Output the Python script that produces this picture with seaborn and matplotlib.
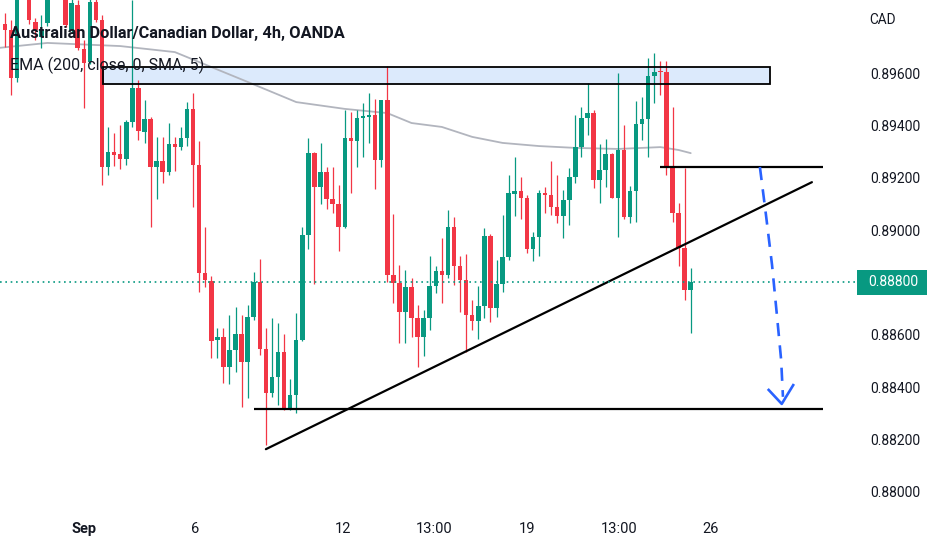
import numpy as np
import pandas as pd
import matplotlib
matplotlib.use("Agg")
import matplotlib.pyplot as plt
import matplotlib.transforms as mtransforms
from matplotlib.patches import Rectangle
import seaborn as sns

# ----------------------------------------------------
# data: AUD/CAD 4h candles
# ----------------------------------------------------
opens = [0.89787, 0.89764, 0.89581, 0.89910, 0.89925, 0.89795, 0.89738, 0.89791, 0.89902, 0.89925,
         0.89898, 0.89764, 0.89860, 0.89692, 0.89642, 0.89871, 0.89803, 0.89241, 0.89298, 0.89291,
         0.89272, 0.89413, 0.89543, 0.89375, 0.89424, 0.89241, 0.89264, 0.89222, 0.89329, 0.89317,
         0.89352, 0.89463, 0.89249, 0.88836, 0.88806, 0.88580, 0.88592, 0.88477, 0.88542, 0.88603,
         0.88496, 0.88668, 0.88802, 0.88546, 0.88378, 0.88439, 0.88534, 0.88317, 0.88370, 0.88580,
         0.88981, 0.89295, 0.89165, 0.89222, 0.89119, 0.89100, 0.89012, 0.89352, 0.89340, 0.89428,
         0.89432, 0.89440, 0.89268, 0.89497, 0.88829, 0.88798, 0.88687, 0.88783, 0.88664, 0.88592,
         0.88664, 0.88787, 0.88844, 0.88829, 0.89012, 0.88863, 0.88809, 0.88676, 0.88653, 0.88710,
         0.88978, 0.88702, 0.88794, 0.88897, 0.89138, 0.89149, 0.89123, 0.88928, 0.88974, 0.89142,
         0.89134, 0.89088, 0.89054, 0.89115, 0.89203, 0.89317, 0.89428, 0.89447, 0.89191, 0.89230,
         0.89291, 0.89123, 0.89306, 0.89050, 0.89149, 0.89405, 0.89424, 0.89589, 0.89608, 0.89604,
         0.89245, 0.89065, 0.88932, 0.88771]
highs = [0.89829, 0.89803, 0.89955, 0.89975, 0.89948, 0.89810, 0.89822, 0.89917, 0.89955, 0.89948,
         0.89917, 0.89887, 0.89879, 0.89726, 0.89898, 0.89891, 0.89822, 0.89394, 0.89371, 0.89401,
         0.89421, 0.89879, 0.89573, 0.89497, 0.89432, 0.89356, 0.89356, 0.89409, 0.89356, 0.89394,
         0.89489, 0.89524, 0.89340, 0.89012, 0.88825, 0.88626, 0.88626, 0.88676, 0.88706, 0.88676,
         0.88714, 0.88840, 0.88890, 0.88626, 0.88664, 0.88645, 0.88603, 0.88431, 0.88683, 0.89012,
         0.89352, 0.89298, 0.89333, 0.89241, 0.89241, 0.89172, 0.89459, 0.89451, 0.89459, 0.89486,
         0.89524, 0.89501, 0.89497, 0.89627, 0.89062, 0.88867, 0.88848, 0.88817, 0.88714, 0.88695,
         0.88901, 0.88863, 0.88970, 0.89077, 0.89050, 0.88901, 0.88909, 0.88733, 0.88787, 0.89008,
         0.88985, 0.88886, 0.89058, 0.89211, 0.89279, 0.89203, 0.89134, 0.88993, 0.89153, 0.89165,
         0.89264, 0.89211, 0.89153, 0.89237, 0.89440, 0.89470, 0.89562, 0.89459, 0.89329, 0.89348,
         0.89295, 0.89600, 0.89401, 0.89169, 0.89493, 0.89508, 0.89657, 0.89677, 0.89646, 0.89646,
         0.89470, 0.89104, 0.89237, 0.88855]
lows = [0.89700, 0.89516, 0.89566, 0.89891, 0.89787, 0.89726, 0.89696, 0.89780, 0.89887, 0.89887,
        0.89776, 0.89753, 0.89688, 0.89466, 0.89635, 0.89795, 0.89172, 0.89211, 0.89245, 0.89233,
        0.89249, 0.89394, 0.89344, 0.89333, 0.89012, 0.89119, 0.89180, 0.89211, 0.89226, 0.89306,
        0.89321, 0.89088, 0.88764, 0.88783, 0.88511, 0.88511, 0.88416, 0.88412, 0.88458, 0.88324,
        0.88359, 0.88657, 0.88523, 0.88179, 0.88363, 0.88332, 0.88313, 0.88313, 0.88301, 0.88576,
        0.88928, 0.88794, 0.89100, 0.89081, 0.89065, 0.88920, 0.89008, 0.89142, 0.89241, 0.89279,
        0.89333, 0.89157, 0.89241, 0.88802, 0.88722, 0.88569, 0.88569, 0.88592, 0.88477, 0.88519,
        0.88618, 0.88760, 0.88722, 0.88817, 0.88790, 0.88687, 0.88534, 0.88618, 0.88584, 0.88664,
        0.88649, 0.88668, 0.88764, 0.88886, 0.89054, 0.89042, 0.88913, 0.88882, 0.88901, 0.89065,
        0.89058, 0.89027, 0.88970, 0.89020, 0.89180, 0.89279, 0.89363, 0.89161, 0.89104, 0.89165,
        0.89123, 0.88974, 0.89042, 0.89027, 0.89031, 0.89344, 0.89279, 0.89486, 0.89516, 0.89211,
        0.89031, 0.88863, 0.88733, 0.88607]
closes = [0.89764, 0.89581, 0.89910, 0.89948, 0.89803, 0.89764, 0.89764, 0.89902, 0.89925, 0.89898,
          0.89784, 0.89868, 0.89696, 0.89638, 0.89871, 0.89803, 0.89241, 0.89298, 0.89287, 0.89272,
          0.89413, 0.89543, 0.89379, 0.89424, 0.89241, 0.89264, 0.89222, 0.89329, 0.89317, 0.89352,
          0.89463, 0.89249, 0.88836, 0.88809, 0.88576, 0.88592, 0.88477, 0.88542, 0.88603, 0.88496,
          0.88668, 0.88802, 0.88546, 0.88378, 0.88439, 0.88534, 0.88317, 0.88370, 0.88580, 0.88981,
          0.89295, 0.89165, 0.89222, 0.89119, 0.89100, 0.89012, 0.89352, 0.89340, 0.89428, 0.89436,
          0.89440, 0.89268, 0.89497, 0.88829, 0.88798, 0.88687, 0.88783, 0.88664, 0.88592, 0.88664,
          0.88787, 0.88844, 0.88829, 0.89012, 0.88863, 0.88809, 0.88676, 0.88653, 0.88710, 0.88978,
          0.88702, 0.88794, 0.88897, 0.89142, 0.89149, 0.89123, 0.88928, 0.88974, 0.89142, 0.89134,
          0.89088, 0.89054, 0.89115, 0.89203, 0.89317, 0.89428, 0.89447, 0.89191, 0.89230, 0.89291,
          0.89123, 0.89306, 0.89050, 0.89149, 0.89405, 0.89424, 0.89589, 0.89604, 0.89604, 0.89245,
          0.89065, 0.88932, 0.88771, 0.88800]

# EMA 200 (grey line), sampled along the chart
ema_idx = [-1, 7, 19, 28, 34, 40, 48, 56, 63, 67, 72, 77, 82, 88, 94, 101, 108, 111, 113]
ema_val = [0.89696, 0.89715, 0.89703, 0.89680, 0.89623, 0.89566, 0.89489, 0.89463, 0.89447, 0.89409,
           0.89394, 0.89356, 0.89333, 0.89321, 0.89314, 0.89310, 0.89317, 0.89306, 0.89294]

xtick_pos = [13, 31.3, 55.7, 70.7, 86, 101.2, 116.3]
xtick_lab = ["Sep", "6", "12", "13:00", "19", "13:00", "26"]
price_ticks = [0.880, 0.882, 0.884, 0.886, 0.888, 0.890, 0.892, 0.894, 0.896]
last_price = 0.88800

# drawings
zone_x = [16.2, 126.1]
zone_y = [0.89558, 0.89623]
resist_x, resist_y = [107.9, 134.8], 0.89241
support_x, support_y = [41.0, 134.8], 0.88316
trend_x = [43.0, 132.97]
trend_y = [0.88163, 0.89183]
path_x = [124.4, 125.4, 126.4, 127.2, 127.9, 128.2]
path_y = [0.89241, 0.89058, 0.88867, 0.88676, 0.88504, 0.88363]
head_x = [125.7, 128.0, 130.0]
head_y = [0.88393, 0.88336, 0.88412]

GREEN = "#089981"
RED = "#F23645"
TXT = "#131722"
FONT = ["Roboto", "DejaVu Sans"]

# ----------------------------------------------------
# plot
# ----------------------------------------------------
sns.set_theme(style="white")
plt.rcParams["font.family"] = FONT

df = pd.DataFrame({"open": opens, "high": highs, "low": lows, "close": closes})
df["x"] = np.arange(len(df))
up = df["close"] >= df["open"]
cols = np.where(up, GREEN, RED)

fig = plt.figure(figsize=(9.32, 5.5), dpi=100)
ax = fig.add_axes([0, 38 / 550, 857 / 932, 512 / 550])
ax.set_xlim(-0.81, 140.4)
ax.set_ylim(0.87923, 0.89879)

# zone
ax.add_patch(Rectangle((zone_x[0], zone_y[0]), zone_x[1] - zone_x[0], zone_y[1] - zone_y[0],
                       facecolor="#DCEAFC", edgecolor="none", zorder=1))
ax.add_patch(Rectangle((zone_x[0], zone_y[0]), zone_x[1] - zone_x[0], zone_y[1] - zone_y[0],
                       facecolor="none", edgecolor="black", lw=1.3, zorder=4))

sns.lineplot(x=ema_idx, y=ema_val, ax=ax, color="#B2B5BE", lw=1.3, zorder=1.5)

# candles
ax.vlines(df["x"], df["low"], df["high"], colors=cols, lw=0.9, zorder=2)
body_lo = np.minimum(df["open"], df["close"])
body_h = np.maximum((df["close"] - df["open"]).abs(), 0.00003)
ax.bar(df["x"], body_h, bottom=body_lo, width=0.74, color=cols, linewidth=0, zorder=3)

# lines
ax.hlines(resist_y, resist_x[0], resist_x[1], color="black", lw=1.6, zorder=4)
ax.hlines(support_y, support_x[0], support_x[1], color="black", lw=1.6, zorder=4)
ax.plot(trend_x, trend_y, color="black", lw=1.6, zorder=4)
ax.axhline(last_price, color=GREEN, lw=1.2, ls=(0, (1, 2.2)), zorder=4)
ax.plot(path_x, path_y, color="#2962FF", lw=1.9, ls=(0, (5, 3.5)), zorder=5)
ax.plot(head_x, head_y, color="#2962FF", lw=1.9, zorder=5, solid_capstyle="butt")

# axes
for s in ax.spines.values():
    s.set_visible(False)
ax.grid(False)
ax.yaxis.tick_right()
ax.set_yticks(price_ticks, [("" if abs(p - last_price) < 1e-9 else f"{p:.5f}") for p in price_ticks])
ax.set_xticks(xtick_pos, xtick_lab)
ax.tick_params(axis="y", length=0, pad=9.4, labelsize=10, labelcolor=TXT)
ax.tick_params(axis="x", length=0, pad=7, labelsize=10.5, labelcolor=TXT)
ax.get_xticklabels()[0].set_fontweight("bold")
ax.set_xlabel("")
ax.set_ylabel("")

# last price label
tr = mtransforms.blended_transform_factory(fig.transFigure, ax.transData)
box_h = 25 / 26170
ax.add_patch(Rectangle((857 / 932, last_price - box_h / 2), 70 / 932, box_h, transform=tr,
                       facecolor=GREEN, edgecolor="none", clip_on=False, zorder=6))
ax.text(893 / 932, last_price, f"{last_price:.5f}", transform=tr, color="white",
        fontsize=10, ha="center", va="center", zorder=7, clip_on=False)

fig.text(882 / 932, 1 - 20 / 550, "CAD", fontsize=9.8, color=TXT, ha="center", va="center")
fig.text(10 / 932, 1 - 38 / 550, "Australian Dollar/Canadian Dollar, 4h, OANDA",
         fontsize=11.8, fontweight="semibold", color=TXT, ha="left", va="baseline")
fig.text(10 / 932, 1 - 70 / 550, "EMA (200, close, 0, SMA, 5)",
         fontsize=11.5, color=TXT, ha="left", va="baseline")

fig.savefig("out.png", dpi=100)
